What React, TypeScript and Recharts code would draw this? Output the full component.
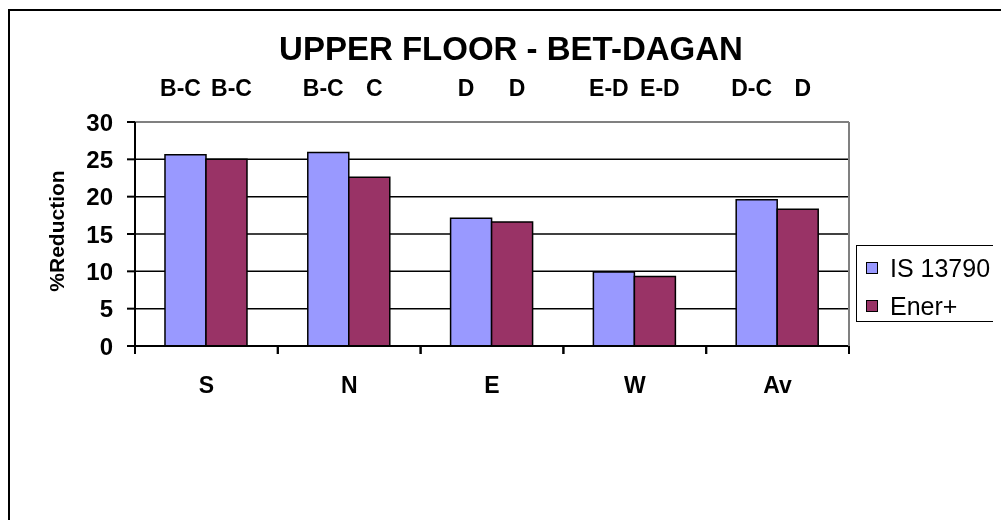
import { BarChart, Bar, XAxis, YAxis, CartesianGrid, Legend, LabelList, ReferenceLine } from 'recharts';

const categories = ['S', 'N', 'E', 'W', 'Av'];
const isValues = [25.6, 25.9, 17.1, 9.9, 19.6];
const enerValues = [25.0, 22.6, 16.6, 9.3, 18.3];
const isRatings = ['B-C', 'B-C', 'D', 'E-D', 'D-C'];
const enerRatings = ['B-C', 'C', 'D', 'E-D', 'D'];
const seriesNames = ['IS 13790', 'Ener+'];
const yTicks = [0, 5, 10, 15, 20, 25, 30];

const data = categories.map((cat, i) => ({
  cat,
  is: isValues[i],
  ener: enerValues[i],
  isR: isRatings[i],
  enerR: enerRatings[i],
}));

const FONT = '"Liberation Sans", Arial, sans-serif';

function CatTick(props: any) {
  const { x, y, payload } = props;
  const half = payload?.offset || 71.4;
  return (
    <g>
      <line x1={x - half} y1={y} x2={x - half} y2={y + 8} stroke="#000" strokeWidth={2} />
      <line x1={x + half} y1={y} x2={x + half} y2={y + 8} stroke="#000" strokeWidth={2} />
      <text x={x} y={y + 39} textAnchor="middle" dominantBaseline="central"
        fontFamily={FONT} fontWeight="bold" fontSize={23} fill="#000">
        {payload.value}
      </text>
    </g>
  );
}

// rating letters sit in a row above the plot, pushed apart a little
const ratingLabel = (shift: number) => (props: any) => {
  const { x, width, value } = props;
  return (
    <text x={x + width / 2 + shift} y={80} textAnchor="middle" dominantBaseline="central"
      fontFamily={FONT} fontWeight="bold" fontSize={23} fill="#000">
      {value}
    </text>
  );
};

function LegendBox({ payload }: any) {
  const items = [...(payload || [])].sort(
    (a: any, b: any) => seriesNames.indexOf(a.value) - seriesNames.indexOf(b.value),
  );
  return (
    <div style={{
      border: '1.5px solid #000', width: 144, height: 77, boxSizing: 'border-box',
      background: '#fff', position: 'relative', fontFamily: FONT,
    }}>
      {items.map((p: any, i: number) => (
        <div key={p.value} style={{
          position: 'absolute', left: 9, top: 8 + i * 38, height: 28,
          display: 'flex', alignItems: 'center', whiteSpace: 'nowrap',
        }}>
          <span style={{
            display: 'inline-block', width: 10, height: 10, background: p.color,
            border: '1.5px solid #000', marginRight: 12,
          }} />
          <span style={{ fontSize: 25, color: '#000' }}>{p.value}</span>
        </div>
      ))}
    </div>
  );
}

export default function App() {
  return (
    <div style={{ position: 'relative', width: 993, height: 500, fontFamily: FONT }}>
      {/* outer frame, cut off by the window on the right and bottom */}
      <div style={{
        position: 'fixed', left: 8, top: 9, width: 1100, height: 600,
        borderLeft: '2px solid #000', borderTop: '2px solid #000', boxSizing: 'border-box',
      }} />
      <div style={{
        position: 'absolute', left: 203, width: 600, top: 23, textAlign: 'center',
        fontSize: 33, fontWeight: 'bold', lineHeight: '36px', color: '#000',
      }}>
        UPPER FLOOR - BET-DAGAN
      </div>
      <BarChart
        width={993}
        height={500}
        data={data}
        margin={{ top: 114, right: 7, bottom: 132, left: 0 }}
        barCategoryGap="21%"
        barGap={0}
        style={{ position: 'absolute', left: 0, top: 0 }}
      >
        <CartesianGrid vertical={false} stroke="#000" strokeWidth={1.5} />
        <XAxis
          dataKey="cat"
          tick={<CatTick />}
          tickLine={false}
          tickSize={0}
          tickMargin={0}
          interval={0}
          axisLine={{ stroke: '#000', strokeWidth: 2 }}
        />
        <YAxis
          domain={[0, 30]}
          ticks={yTicks}
          width={127}
          tickSize={8}
          tickMargin={14}
          interval={0}
          axisLine={{ stroke: '#000', strokeWidth: 2 }}
          tickLine={{ stroke: '#000', strokeWidth: 2 }}
          tick={{ fill: '#000', fontSize: 24, fontWeight: 'bold', fontFamily: FONT }}
          label={(p: any) => {
            const vb = p.viewBox || { y: 114, height: 254 };
            const cy = vb.y + vb.height / 2 - 3;
            return (
              <text x={48} y={cy} transform={`rotate(-90 48 ${cy})`} textAnchor="middle"
                dominantBaseline="central" fontFamily={FONT} fontWeight="bold" fontSize={21} fill="#000">
                %Reduction
              </text>
            );
          }}
        />
        <YAxis
          yAxisId="frame"
          orientation="right"
          domain={[0, 30]}
          width={1}
          tick={false}
          tickLine={false}
          axisLine={{ stroke: '#808080', strokeWidth: 2 }}
        />
        <ReferenceLine y={30} stroke="#808080" strokeWidth={2} />
        <Legend
          layout="vertical"
          align="right"
          verticalAlign="middle"
          content={<LegendBox />}
          wrapperStyle={{ position: 'absolute', left: 848, top: 237, width: 144, height: 77 }}
        />
        <Bar dataKey="is" name={seriesNames[0]} fill="#9999FF" stroke="#000" strokeWidth={1.5} isAnimationActive={false}>
          <LabelList dataKey="isR" content={ratingLabel(-5)} />
        </Bar>
        <Bar dataKey="ener" name={seriesNames[1]} fill="#993366" stroke="#000" strokeWidth={1.5} isAnimationActive={false}>
          <LabelList dataKey="enerR" content={ratingLabel(5)} />
        </Bar>
      </BarChart>
    </div>
  );
}
